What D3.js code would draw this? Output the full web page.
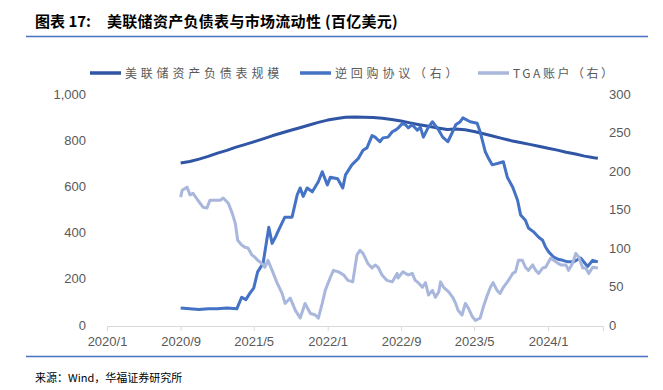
<!DOCTYPE html>
<html><head><meta charset="utf-8">
<script src="https://cdn.jsdelivr.net/npm/d3@7"></script>
<style>
html,body{margin:0;padding:0;background:#fff;}
svg{display:block;font-family:"Noto Sans CJK SC","Noto Sans",sans-serif;}
</style></head>
<body><svg id="c" width="663" height="390"></svg>
<script>
// ---- data (百亿美元) ----
const bsDates = ["2020-09-01","2020-10-01","2020-11-01","2020-12-01","2021-01-01","2021-02-01","2021-03-01","2021-04-01","2021-05-01","2021-06-01","2021-07-01","2021-08-01","2021-09-01","2021-10-01","2021-11-01","2021-12-01","2022-01-01","2022-02-01","2022-03-01","2022-04-01","2022-05-01","2022-06-01","2022-07-01","2022-08-01","2022-09-01","2022-10-01","2022-11-01","2022-12-01","2023-01-01","2023-02-01","2023-03-01","2023-04-01","2023-05-01","2023-06-01","2023-07-01","2023-08-01","2023-09-01","2023-10-01","2023-11-01","2023-12-01","2024-01-01","2024-02-01","2024-03-01","2024-04-01","2024-05-01","2024-06-01","2024-06-14"];
const bsValues = [701,708,718,730,744,756,769,781,793,806,819,831,843,854,866,877,887,894,899,900,899,898,895,890,883,875,867,860,853,846,848,845,838,828,818,808,798,790,782,774,765,757,748,740,731,724,722];

const rrpDates = ["2020-09-01","2020-10-01","2020-11-01","2020-12-01","2021-01-01","2021-02-01","2021-03-06","2021-03-22","2021-04-05","2021-04-18","2021-05-01","2021-05-14","2021-06-01","2021-06-20","2021-07-01","2021-07-13","2021-07-26","2021-08-12","2021-09-05","2021-09-22","2021-10-02","2021-10-12","2021-10-25","2021-11-11","2021-12-01","2021-12-14","2021-12-31","2022-01-10","2022-02-03","2022-02-20","2022-03-01","2022-03-22","2022-04-12","2022-04-28","2022-05-11","2022-05-28","2022-06-07","2022-06-23","2022-07-03","2022-07-20","2022-08-03","2022-08-13","2022-08-23","2022-09-06","2022-09-16","2022-09-25","2022-10-08","2022-10-25","2022-11-04","2022-11-14","2022-11-28","2022-12-14","2023-01-04","2023-01-17","2023-02-03","2023-02-19","2023-03-01","2023-03-16","2023-03-25","2023-04-18","2023-05-11","2023-05-21","2023-06-07","2023-06-17","2023-06-30","2023-07-20","2023-08-06","2023-08-19","2023-09-06","2023-09-22","2023-10-02","2023-10-18","2023-10-28","2023-11-14","2023-12-01","2023-12-14","2023-12-24","2024-01-03","2024-01-20","2024-02-06","2024-02-19","2024-03-06","2024-03-25","2024-04-18","2024-05-11","2024-05-28","2024-06-14"];
const rrpValues = [22,21,20,21,21,22,21,36,33,41,48,69,80,127,106,115,126,140,140,169,178,167,178,173,186,199,182,192,190,178,195,208,216,227,230,246,244,238,243,244,251,253,256,262,260,256,260,253,257,244,255,264,253,244,238,251,260,264,269,264,262,251,225,217,208,210,212,192,179,162,143,136,126,121,114,110,101,95,88,85,84,82,82,87,76,84,82];

const tgaDates = ["2020-09-01","2020-09-06","2020-09-22","2020-10-02","2020-10-12","2020-10-28","2020-11-14","2020-11-27","2020-12-07","2020-12-24","2021-01-10","2021-01-20","2021-02-06","2021-02-19","2021-03-01","2021-03-09","2021-03-22","2021-04-02","2021-04-12","2021-04-25","2021-05-05","2021-05-14","2021-05-28","2021-06-07","2021-06-17","2021-07-01","2021-07-17","2021-08-03","2021-08-13","2021-08-30","2021-09-16","2021-10-02","2021-10-18","2021-11-05","2021-11-21","2021-12-01","2021-12-14","2021-12-24","2022-01-10","2022-01-20","2022-02-06","2022-02-23","2022-03-09","2022-03-25","2022-04-08","2022-04-18","2022-04-28","2022-05-14","2022-05-28","2022-06-07","2022-06-17","2022-06-30","2022-07-16","2022-08-03","2022-08-19","2022-08-22","2022-09-07","2022-09-25","2022-10-08","2022-10-18","2022-10-28","2022-11-11","2022-11-21","2022-12-01","2022-12-14","2022-12-24","2023-01-04","2023-01-10","2023-01-20","2023-02-06","2023-02-19","2023-03-01","2023-03-09","2023-03-22","2023-04-02","2023-04-12","2023-04-25","2023-05-05","2023-05-21","2023-06-01","2023-06-14","2023-06-24","2023-07-03","2023-07-16","2023-07-26","2023-08-06","2023-08-23","2023-09-06","2023-09-15","2023-09-25","2023-10-08","2023-10-18","2023-10-28","2023-11-11","2023-11-21","2023-12-01","2023-12-14","2023-12-24","2024-01-10","2024-01-20","2024-02-03","2024-02-13","2024-02-29","2024-03-09","2024-03-22","2024-04-02","2024-04-12","2024-04-25","2024-05-05","2024-05-15","2024-05-28","2024-06-14"];
const tgaValues = [166,175,179,169,171,162,153,152,162,162,162,165,158,145,132,110,104,101,100,91,88,84,80,75,84,71,55,41,28,35,19,9,28,15,13,9,28,45,62,71,69,65,58,56,91,97,93,80,74,78,75,65,58,56,67,61,69,65,67,58,55,49,55,39,45,36,43,56,49,43,36,28,19,13,28,22,11,6,9,24,39,49,55,45,41,49,58,67,69,84,84,75,71,78,71,67,74,75,87,84,80,78,78,71,80,93,88,74,74,67,75,74];

const xTickLabels = ["2020/1","2020/9","2021/5","2022/1","2022/9","2023/5","2024/1"];
const leftTicks = [0,200,400,600,800,1000];
const rightTicks = [0,50,100,150,200,250,300];
const seriesNames = ["美联储资产负债表规模","逆回购协议（右）","TGA账户（右）"];
const colors = ["#2F55A4","#4472C4","#A9B7DD"];

// ---- chart ----
const svg = d3.select("#c");
const parse = d3.timeParse("%Y-%m-%d");
const tickParse = d3.timeParse("%Y/%m");
const x = d3.scaleTime().domain([parse("2020-01-01"), parse("2024-07-01")]).range([107, 603]);
const yL = d3.scaleLinear().domain([0,1000]).range([325, 94]);
const yR = d3.scaleLinear().domain([0,300]).range([325, 94]);

// title
const tt = svg.append("text").attr("y",27).attr("font-size",15).attr("font-weight","bold").attr("fill","#000");
tt.append("tspan").attr("x",35).text("图表 17:");
tt.append("tspan").attr("x",107).attr("letter-spacing",0.3).text("美联储资产负债表与市场流动性 (百亿美元)");
svg.append("line").attr("x1",26).attr("x2",648).attr("y1",36.5).attr("y2",36.5)
  .attr("stroke","#4472C4").attr("stroke-width",1.5);

// legend
const legX = [90, 300, 478];
seriesNames.forEach((n,i)=>{
  svg.append("line").attr("x1",legX[i]).attr("x2",legX[i]+31).attr("y1",73).attr("y2",73)
    .attr("stroke",colors[i]).attr("stroke-width",3.5);
  svg.append("text").attr("x",legX[i]+35).attr("y",77.5).attr("font-size",12)
    .attr("letter-spacing", i===2 ? 2.5 : 3.8).attr("fill","#595959").text(n);
});

// x axis
const xAxis = d3.axisBottom(x).tickValues(xTickLabels.map(t=>tickParse(t)))
  .tickFormat((d,i)=>xTickLabels[i]).tickSizeOuter(0).tickSize(5);
const gx = svg.append("g").attr("transform","translate(0,326)").call(xAxis);
gx.select(".domain").attr("stroke","#d9d9d9");
gx.selectAll(".tick line").attr("stroke","#d9d9d9");
gx.selectAll(".tick text").attr("font-size",13).attr("fill","#595959").attr("dy","0.95em")
  .attr("font-family","Liberation Sans, Arial, sans-serif");

// left axis
const gl = svg.append("g").attr("transform","translate(86,0)")
  .call(d3.axisLeft(yL).tickValues(leftTicks).tickSize(0).tickFormat(d3.format(",")));
gl.select(".domain").remove();
gl.selectAll(".tick text").attr("font-size",13).attr("fill","#595959").attr("x",0)
  .attr("font-family","Liberation Sans, Arial, sans-serif");

// right axis
const gr = svg.append("g").attr("transform","translate(609,0)")
  .call(d3.axisRight(yR).tickValues(rightTicks).tickSize(0));
gr.select(".domain").remove();
gr.selectAll(".tick text").attr("font-size",13).attr("fill","#595959").attr("x",0)
  .attr("font-family","Liberation Sans, Arial, sans-serif");

// lines
function mk(dates, vals){ return dates.map((d,i)=>({d:parse(d), v:vals[i]})); }
const lineL = d3.line().x(p=>x(p.d)).y(p=>yL(p.v)).curve(d3.curveLinear);
const lineR = d3.line().x(p=>x(p.d)).y(p=>yR(p.v)).curve(d3.curveLinear);
svg.append("path").datum(mk(bsDates,bsValues)).attr("d",lineL).attr("fill","none")
  .attr("stroke",colors[0]).attr("stroke-width",3).attr("stroke-linejoin","round");
svg.append("path").datum(mk(rrpDates,rrpValues)).attr("d",lineR).attr("fill","none")
  .attr("stroke",colors[1]).attr("stroke-width",3).attr("stroke-linejoin","round");
svg.append("path").datum(mk(tgaDates,tgaValues)).attr("d",lineR).attr("fill","none")
  .attr("stroke",colors[2]).attr("stroke-width",3).attr("stroke-linejoin","round");

// footer
svg.append("line").attr("x1",26).attr("x2",648).attr("y1",356.5).attr("y2",356.5)
  .attr("stroke","#4472C4").attr("stroke-width",1.5);
svg.append("text").attr("x",35).attr("y",382).attr("font-size",11).attr("fill","#000")
  .text("来源：Wind，华福证券研究所");
</script></body></html>
